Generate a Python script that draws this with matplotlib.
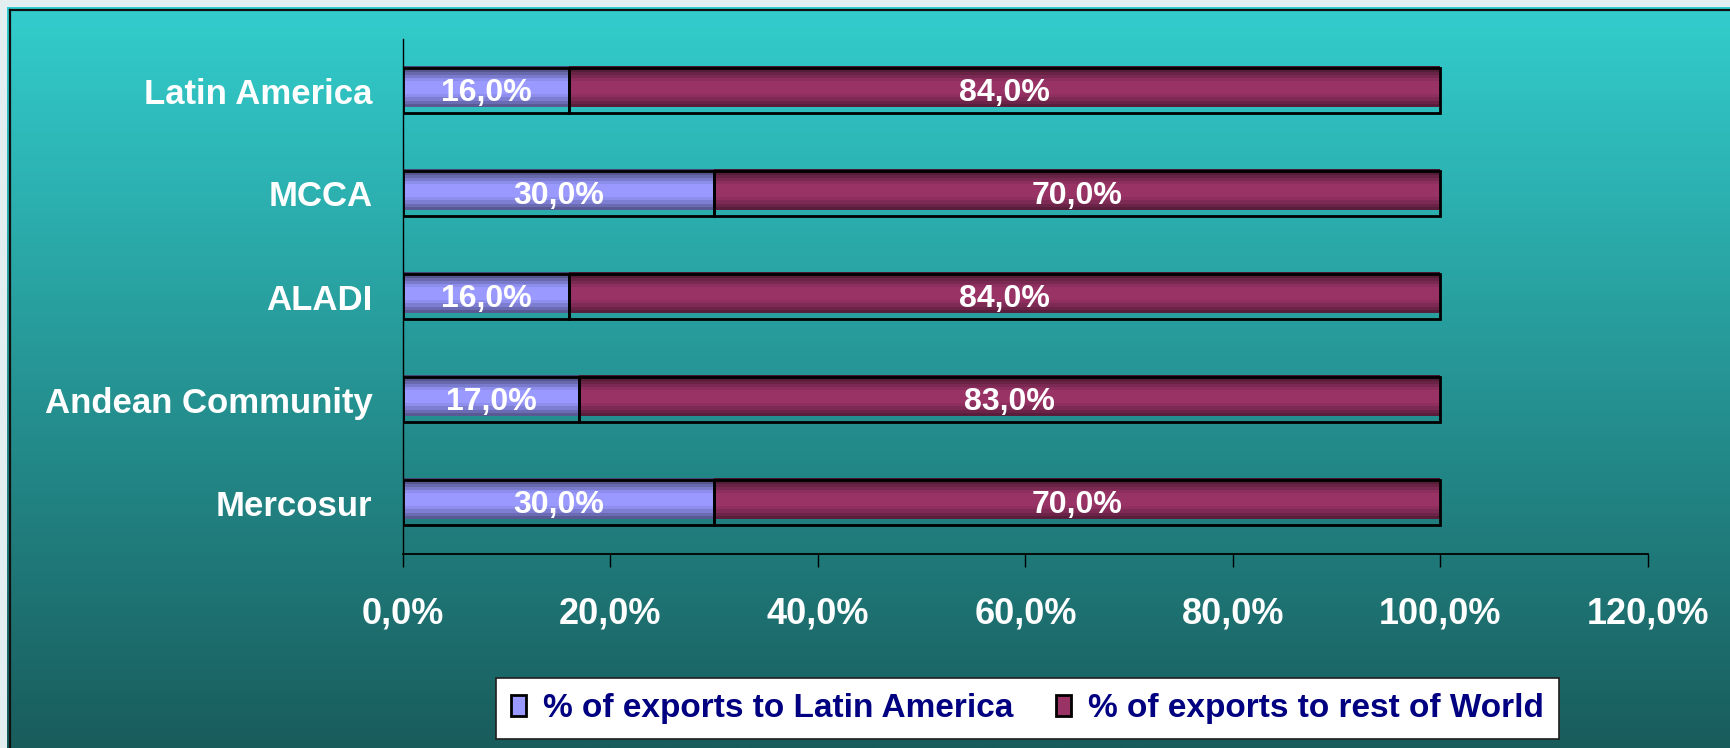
import numpy as np
import matplotlib
matplotlib.use('Agg')
import matplotlib.pyplot as plt
from matplotlib.patches import Patch
from matplotlib.lines import Line2D
from matplotlib.ticker import FuncFormatter

plt.rcParams['font.family'] = ['Liberation Sans', 'DejaVu Sans']
plt.rcParams['font.weight'] = 'bold'

# 数据（从下到上）
categories = ['Mercosur', 'Andean Community', 'ALADI', 'MCCA', 'Latin America']
latam_share = [30.0, 17.0, 16.0, 30.0, 16.0]
rest_share = [70.0, 83.0, 84.0, 70.0, 84.0]
series_names = ['% of exports to Latin America', '% of exports to rest of World']
x_ticks = [0, 20, 40, 60, 80, 100, 120]

W, H = 1731, 748
BLUE = np.array([0.60, 0.60, 1.00])
WINE = np.array([0.60, 0.20, 0.40])
# 条形的上下渐变（从上到下的亮度系数）
PROFILE = [0.45, 0.56, 0.68, 0.80, 0.92, 1.0, 1.0, 1.0, 1.0, 0.93, 0.82, 0.70, 0.58]


def pct(v):
    return f'{v:.1f}%'.replace('.', ',')


def draw_background(fig):
    """浅色外框 + 青色渐变面板"""
    fig.patch.set_facecolor('#e2eef0')
    bg = fig.add_axes([7 / W, 0, 1 - 7 / W, (H - 7) / H], zorder=-10)
    top = np.array([51, 205, 205]) / 255
    bottom = np.array([25, 92, 92]) / 255
    t = np.linspace(0, 1, 256)[:, None]
    grad = (top[None, :] * (1 - t) + bottom[None, :] * t)[:, None, :]
    bg.imshow(grad, aspect='auto', extent=[0, 1, 0, 1])
    bg.set_axis_off()
    fig.add_artist(Line2D([10 / W, 10 / W], [0, 1 - 10 / H], transform=fig.transFigure,
                          color='#101010', lw=1.6))
    fig.add_artist(Line2D([10 / W, 1], [1 - 10 / H, 1 - 10 / H], transform=fig.transFigure,
                          color='#101010', lw=1.6))


def draw_gradient_bar(ax, y, left, width, base, height):
    n = len(PROFILE)
    band = height / n
    for i, f in enumerate(PROFILE):
        yc = y + height / 2 - band * (i + 0.5)
        ax.barh(yc, width, left=left, height=band * 1.08,
                color=np.clip(base * f, 0, 1), lw=0, zorder=2)


def draw_bars(ax):
    ypos = np.arange(len(categories))
    for y, a, b in zip(ypos, latam_share, rest_share):
        draw_gradient_bar(ax, y + 0.04, 0, a, BLUE, 0.40)
        draw_gradient_bar(ax, y + 0.04, a, b, WINE, 0.40)
        # 黑色外框
        ax.barh(y, a, left=0, height=0.44, fill=False, edgecolor='black', lw=2, zorder=3)
        ax.barh(y, b, left=a, height=0.44, fill=False, edgecolor='black', lw=2, zorder=3)
        ax.text(a / 2, y - 0.025, pct(a), color='white', fontsize=23,
                fontweight='bold', ha='center', va='center', zorder=4)
        ax.text(a + b / 2, y - 0.025, pct(b), color='white', fontsize=23,
                fontweight='bold', ha='center', va='center', zorder=4)


def main():
    fig = plt.figure(figsize=(W / 100, H / 100), dpi=100)
    draw_background(fig)

    ax = fig.add_axes([403 / W, 194 / H, 1245 / W, 515 / H])
    ax.patch.set_alpha(0)
    draw_bars(ax)

    ax.set_xlim(0, 120)
    ax.set_ylim(-0.5, len(categories) - 0.5)
    ax.set_xticks(x_ticks)
    ax.xaxis.set_major_formatter(FuncFormatter(lambda v, p: pct(v)))
    ax.set_yticks(np.arange(len(categories)))
    ax.set_yticklabels(categories)
    ax.tick_params(axis='x', direction='out', length=9.5, width=1, color='black',
                   pad=21, labelsize=26, labelcolor='white')
    ax.tick_params(axis='y', length=0, pad=22, labelsize=25, labelcolor='white')
    for s in ['top', 'right']:
        ax.spines[s].set_visible(False)
    ax.spines['left'].set_color('black')
    ax.spines['left'].set_linewidth(1)
    ax.spines['bottom'].set_color('black')
    ax.spines['bottom'].set_linewidth(1.3)

    handles = [Patch(facecolor=BLUE, edgecolor='black', lw=2),
               Patch(facecolor=WINE, edgecolor='black', lw=2)]
    leg = fig.legend(handles, series_names, loc='lower left', ncol=2,
                     bbox_to_anchor=(496 / W, 9 / H, 1063 / W, 62 / H), mode='expand',
                     borderaxespad=0, fancybox=False, framealpha=1, edgecolor='#202020',
                     facecolor='white', prop={'size': 24, 'weight': 'bold'},
                     handlelength=0.45, handleheight=0.6, handletextpad=0.5,
                     columnspacing=0.8, borderpad=0.45)
    leg.get_frame().set_linewidth(1.2)
    for t in leg.get_texts():
        t.set_color('#000080')

    fig.savefig('out.png', dpi=100)


if __name__ == "__main__":
    main()
